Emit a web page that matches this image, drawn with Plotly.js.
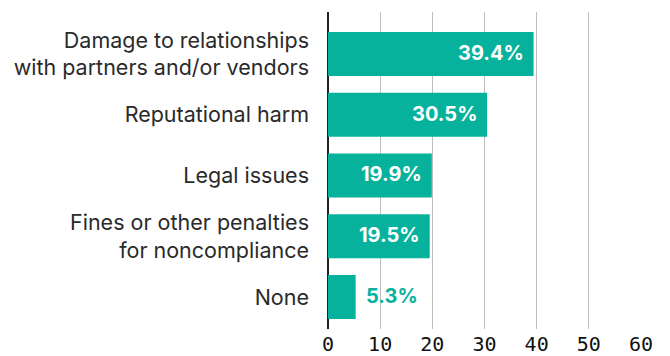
<!DOCTYPE html>
<html>
<head>
<meta charset="utf-8">
<script src="https://cdn.plot.ly/plotly-3.0.1.min.js"></script>
<style>
  html, body { margin: 0; padding: 0; background: #fff; }
  #chart { width: 670px; height: 356px; }
</style>
</head>
<body>
<div id="chart"></div>
<script>
// Consequences reported, share of respondents (%)
const categories = [
  "Damage to relationships<br>with partners and/or vendors",
  "Reputational harm",
  "Legal issues",
  "Fines or other penalties<br>for noncompliance",
  "None"
];
const values = [39.4, 30.5, 19.9, 19.5, 5.3];
const xTicks = [0, 10, 20, 30, 40, 50, 60];

const teal = "#07B29C";
const labelFont = "Inter, 'Noto Sans', sans-serif";

// Bars too short to hold their label get it outside, in the bar colour.
const insideMin = 10;
const annotations = values.map((v, i) => {
  const inside = v >= insideMin;
  return {
    x: v, y: categories[i], xref: "x", yref: "y",
    text: v.toFixed(1) + "%",
    showarrow: false,
    xanchor: inside ? "right" : "left",
    xshift: inside ? -8 : 8,
    yshift: 1,
    font: { family: labelFont, size: 20, color: inside ? "#ffffff" : teal, weight: 700 }
  };
});

const trace = {
  type: "bar",
  orientation: "h",
  x: values,
  y: categories,
  marker: { color: teal },
  hoverinfo: "skip"
};

const layout = {
  width: 670, height: 356,
  margin: { l: 327.5, r: 29, t: 12, b: 27 },
  paper_bgcolor: "#fff", plot_bgcolor: "#fff",
  bargap: 0.276,
  showlegend: false,
  xaxis: {
    range: [0, 60],
    tickvals: xTicks,
    ticktext: xTicks.map(String),
    showgrid: true, gridcolor: "#BDBDBD", gridwidth: 1,
    zeroline: true, zerolinecolor: "#222", zerolinewidth: 1.5,
    showline: false, ticks: "",
    ticklabelstandoff: 1,
    tickfont: { family: "'DejaVu Sans Mono', monospace", size: 20, color: "#111" },
    fixedrange: true
  },
  yaxis: {
    type: "category",
    range: [4.527, -0.691],
    showgrid: false, zeroline: false, showline: false,
    ticks: "",
    ticklabelstandoff: 18,
    tickfont: { family: labelFont, size: 21.5, color: "#2a2a2a" },
    fixedrange: true
  },
  annotations: annotations
};

Plotly.newPlot("chart", [trace], layout, { displayModeBar: false, staticPlot: true });
</script>
</body>
</html>
